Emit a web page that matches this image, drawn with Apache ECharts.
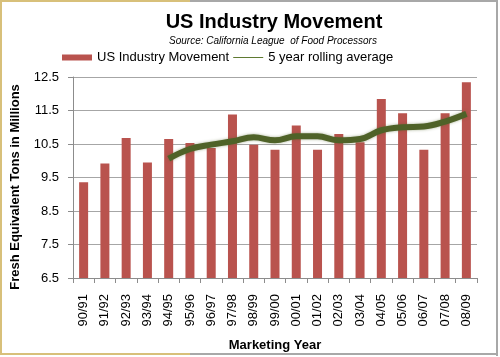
<!DOCTYPE html>
<html><head><meta charset="utf-8">
<script src="https://cdn.jsdelivr.net/npm/echarts@6/dist/echarts.min.js"></script>
<style>html,body{margin:0;padding:0;background:#fff}#c{width:500px;height:357px}</style>
</head><body><div id="c"></div>
<script>
var categories = ['90/91','91/92','92/93','93/94','94/95','95/96','96/97','97/98','98/99','99/00','00/01','01/02','02/03','03/04','04/05','05/06','06/07','07/08','08/09'];
var movement = [9.36, 9.92, 10.68, 9.95, 10.65, 10.53, 10.38, 11.38, 10.48, 10.33, 11.05, 10.33, 10.80, 10.55, 11.84, 11.42, 10.33, 11.42, 12.34];
var rolling = [null, null, null, null, 10.06, 10.35, 10.48, 10.58, 10.70, 10.61, 10.73, 10.73, 10.61, 10.65, 10.91, 11.00, 11.02, 11.17, 11.40];
var yTicks = [6.5, 7.5, 8.5, 9.5, 10.5, 11.5, 12.5];

var chart = echarts.init(document.getElementById('c'), null, {renderer:'canvas'});
var font = 'Liberation Sans, Arial, sans-serif';
chart.setOption({
  animation:false,
  title:[{text:'US Industry Movement', left:269, top:7, textAlign:'center',
    textStyle:{fontFamily:font, fontSize:20, fontWeight:'bold', color:'#000'}},
    {text:'Source: California League  of Food Processors', left:268, top:31, textAlign:'center',
    textStyle:{fontFamily:font, fontSize:10, fontStyle:'italic', fontWeight:'normal', color:'#000'}}],
  legend:{top:46, left:57, itemGap:4, itemWidth:30, itemHeight:6,
    textStyle:{fontFamily:font, fontSize:13, color:'#000'},
    data:[{name:'US Industry Movement', icon:'rect'},
          {name:'5 year rolling average', icon:'path://M0,0L30,0L30,1L0,1Z',
           itemStyle:{color:'#5f7a32', borderColor:'#5f7a32'}, lineStyle:{color:'#5f7a32', width:1.5}}]},
  grid:{left:73, right:23, top:77, bottom:78},
  xAxis:{type:'category', data:categories, name:'Marketing Year', nameLocation:'middle', nameGap:61,
    nameTextStyle:{fontFamily:font, fontSize:13, fontWeight:'bold', color:'#000'},
    axisLine:{lineStyle:{color:'#8c8c8c'}}, axisTick:{show:true, length:5, lineStyle:{color:'#8c8c8c'}},
    axisLabel:{rotate:90, interval:0, fontFamily:font, fontSize:13, color:'#000', margin:16}},
  yAxis:{type:'value', min:6.5, max:12.5, interval:1,
    axisLine:{show:true, lineStyle:{color:'#8c8c8c'}}, axisTick:{show:true, length:5, lineStyle:{color:'#8c8c8c'}},
    splitLine:{lineStyle:{color:'#a6a6a6', width:1}},
    axisLabel:{fontFamily:font, fontSize:13, color:'#000', margin:14,
      formatter:function(v){return yTicks.indexOf(v)>=0 ? v.toFixed(1) : '';}}},
  series:[
    {name:'US Industry Movement', type:'bar', data:movement, barWidth:9,
     itemStyle:{color:'#b9534e'}},
    {name:'5 year rolling average', type:'line', data:rolling, smooth:0.4, symbol:'none',
     lineStyle:{color:'#4f6228', width:6, shadowColor:'rgba(79,98,40,0.5)', shadowBlur:3},
     itemStyle:{color:'#4f6228'}}
  ],
  graphic:[
    {type:'text', x:15, y:187, rotation:Math.PI/2,
     style:{text:'Fresh Equivalent Tons in Millions', fontFamily:font, fontSize:13, fontWeight:'bold',
       fill:'#000', textAlign:'center', textVerticalAlign:'middle'}},
    {type:'line', shape:{x1:1, y1:0, x2:1, y2:355}, style:{stroke:'#d8c07a', lineWidth:2}},
    {type:'line', shape:{x1:0, y1:1, x2:190, y2:1}, style:{stroke:'#d8c07a', lineWidth:2}},
    {type:'line', shape:{x1:190, y1:1, x2:498, y2:1}, style:{stroke:'#a8a8a8', lineWidth:2}},
    {type:'line', shape:{x1:497, y1:0, x2:497, y2:356}, style:{stroke:'#a8a8a8', lineWidth:2}},
    {type:'line', shape:{x1:0, y1:354, x2:190, y2:354}, style:{stroke:'#d8c07a', lineWidth:2}},
    {type:'line', shape:{x1:190, y1:354, x2:498, y2:354}, style:{stroke:'#a8a8a8', lineWidth:2}}
  ]
});
</script></body></html>
